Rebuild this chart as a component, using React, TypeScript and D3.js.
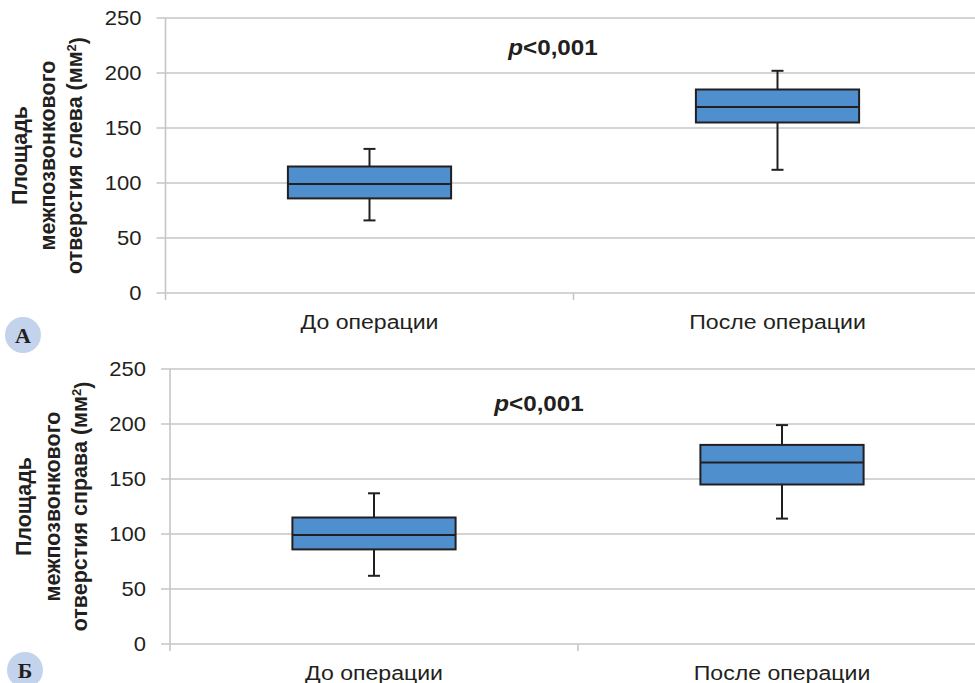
import React from 'react';
import * as d3 from 'd3';

const categories = ['До операции', 'После операции'];
const yTicks = [0, 50, 100, 150, 200, 250];
const pLabel = '<0,001';

// panel A: left foramen
const leftLow = [66, 112];
const leftQ1 = [86, 155];
const leftMedian = [99, 169];
const leftQ3 = [115, 185];
const leftHigh = [131, 202];

// panel B: right foramen
const rightLow = [62, 114];
const rightQ1 = [86, 145];
const rightMedian = [99, 165];
const rightQ3 = [115, 181];
const rightHigh = [137, 199];

const W = 975;
const H = 683;

const gridColor = '#c6c6c6';
const boxFill = '#4f8fce';
const ink = '#231f20';
const font = '"Liberation Sans", Arial, sans-serif';
// the source figure is slightly stretched horizontally
const sx = 1.1;

type PanelProps = {
  x0: number;
  top: number;
  bottom: number;
  titleLines: string[];
  titleX: number[];
  letter: string;
  letterPos: [number, number];
  pPos: [number, number];
  low: number[];
  q1: number[];
  median: number[];
  q3: number[];
  high: number[];
};

const Panel = (p: PanelProps) => {
  const x = d3.scaleBand().domain(categories).range([p.x0, p.x0 + 816]).padding(0);
  const y = d3.scaleLinear().domain([0, 250]).range([p.bottom, p.top]);
  const bw = x.bandwidth() * 0.4;
  const cy = (p.top + p.bottom) / 2;

  return (
    <g>
      {yTicks.map(t => (
        <g key={t}>
          <line x1={p.x0 - 9} x2={W} y1={y(t)} y2={y(t)} stroke={gridColor} strokeWidth={1.6} />
          <text
            transform={`translate(${p.x0 - 24},${y(t)}) scale(${sx},1)`}
            dy="0.35em"
            textAnchor="end"
            fontSize={20}
            fill={ink}
            fontFamily={font}
          >
            {t}
          </text>
        </g>
      ))}
      <line x1={p.x0} x2={p.x0} y1={p.top} y2={p.bottom + 7} stroke={gridColor} strokeWidth={1.6} />
      {categories.map(c => (
        <g key={c}>
          <line
            x1={(x(c) as number) + x.bandwidth()}
            x2={(x(c) as number) + x.bandwidth()}
            y1={p.bottom}
            y2={p.bottom + 7}
            stroke={gridColor}
            strokeWidth={1.6}
          />
          <text
            transform={`translate(${(x(c) as number) + x.bandwidth() / 2},${p.bottom + 36}) scale(${sx},1)`}
            textAnchor="middle"
            fontSize={21}
            fill={ink}
            fontFamily={font}
          >
            {c}
          </text>
        </g>
      ))}
      {categories.map((c, i) => {
        const cx = (x(c) as number) + x.bandwidth() / 2;
        return (
          <g key={c + 'box'} stroke={ink} strokeWidth={2}>
            <line x1={cx} x2={cx} y1={y(p.high[i])} y2={y(p.q3[i])} />
            <line x1={cx} x2={cx} y1={y(p.q1[i])} y2={y(p.low[i])} />
            <line x1={cx - 6} x2={cx + 6} y1={y(p.high[i])} y2={y(p.high[i])} />
            <line x1={cx - 6} x2={cx + 6} y1={y(p.low[i])} y2={y(p.low[i])} />
            <rect
              x={cx - bw / 2}
              y={y(p.q3[i])}
              width={bw}
              height={y(p.q1[i]) - y(p.q3[i])}
              fill={boxFill}
            />
            <line x1={cx - bw / 2} x2={cx + bw / 2} y1={y(p.median[i])} y2={y(p.median[i])} />
          </g>
        );
      })}
      <text
        transform={`translate(${p.pPos[0]},${p.pPos[1]}) scale(${sx},1)`}
        textAnchor="middle"
        fontSize={22}
        fontWeight="bold"
        fill={ink}
        fontFamily={font}
      >
        <tspan fontStyle="italic">p</tspan>
        {pLabel}
      </text>
      {p.titleLines.map((l, i) => (
        <text
          key={i}
          transform={`translate(${p.titleX[i]},${cy}) rotate(-90)`}
          textAnchor="middle"
          dy="0.35em"
          fontSize={21.5}
          fontWeight="bold"
          fill={ink}
          fontFamily={font}
        >
          {i === 2 ? (
            <>
              {l}
              <tspan dy="-0.45em" fontSize={13}>2</tspan>
              <tspan dy="0.45em">)</tspan>
            </>
          ) : (
            l
          )}
        </text>
      ))}
      <circle cx={p.letterPos[0]} cy={p.letterPos[1]} r={18} fill="#c3d3ec" />
      <text
        x={p.letterPos[0]}
        y={p.letterPos[1]}
        dy="0.36em"
        textAnchor="middle"
        fontSize={22}
        fontWeight="bold"
        fill={ink}
        fontFamily='"Liberation Serif", "DejaVu Serif", serif'
      >
        {p.letter}
      </text>
    </g>
  );
};

const App = () => (
  <svg
    width={W}
    height={H}
    style={{ position: 'absolute', left: 0, top: 0, background: '#fff' }}
  >
    <rect width={W} height={H} fill="#fff" />
    <Panel
      x0={165.5}
      top={18}
      bottom={293}
      titleLines={['Площадь', 'межпозвонкового', 'отверстия слева (мм']}
      titleX={[19, 47, 74]}
      letter="А"
      letterPos={[23, 335]}
      pPos={[553, 55]}
      low={leftLow}
      q1={leftQ1}
      median={leftMedian}
      q3={leftQ3}
      high={leftHigh}
    />
    <Panel
      x0={170}
      top={369}
      bottom={644}
      titleLines={['Площадь', 'межпозвонкового', 'отверстия справа (мм']}
      titleX={[23, 52, 79]}
      letter="Б"
      letterPos={[25, 670]}
      pPos={[539, 411]}
      low={rightLow}
      q1={rightQ1}
      median={rightMedian}
      q3={rightQ3}
      high={rightHigh}
    />
  </svg>
);

export default App;
